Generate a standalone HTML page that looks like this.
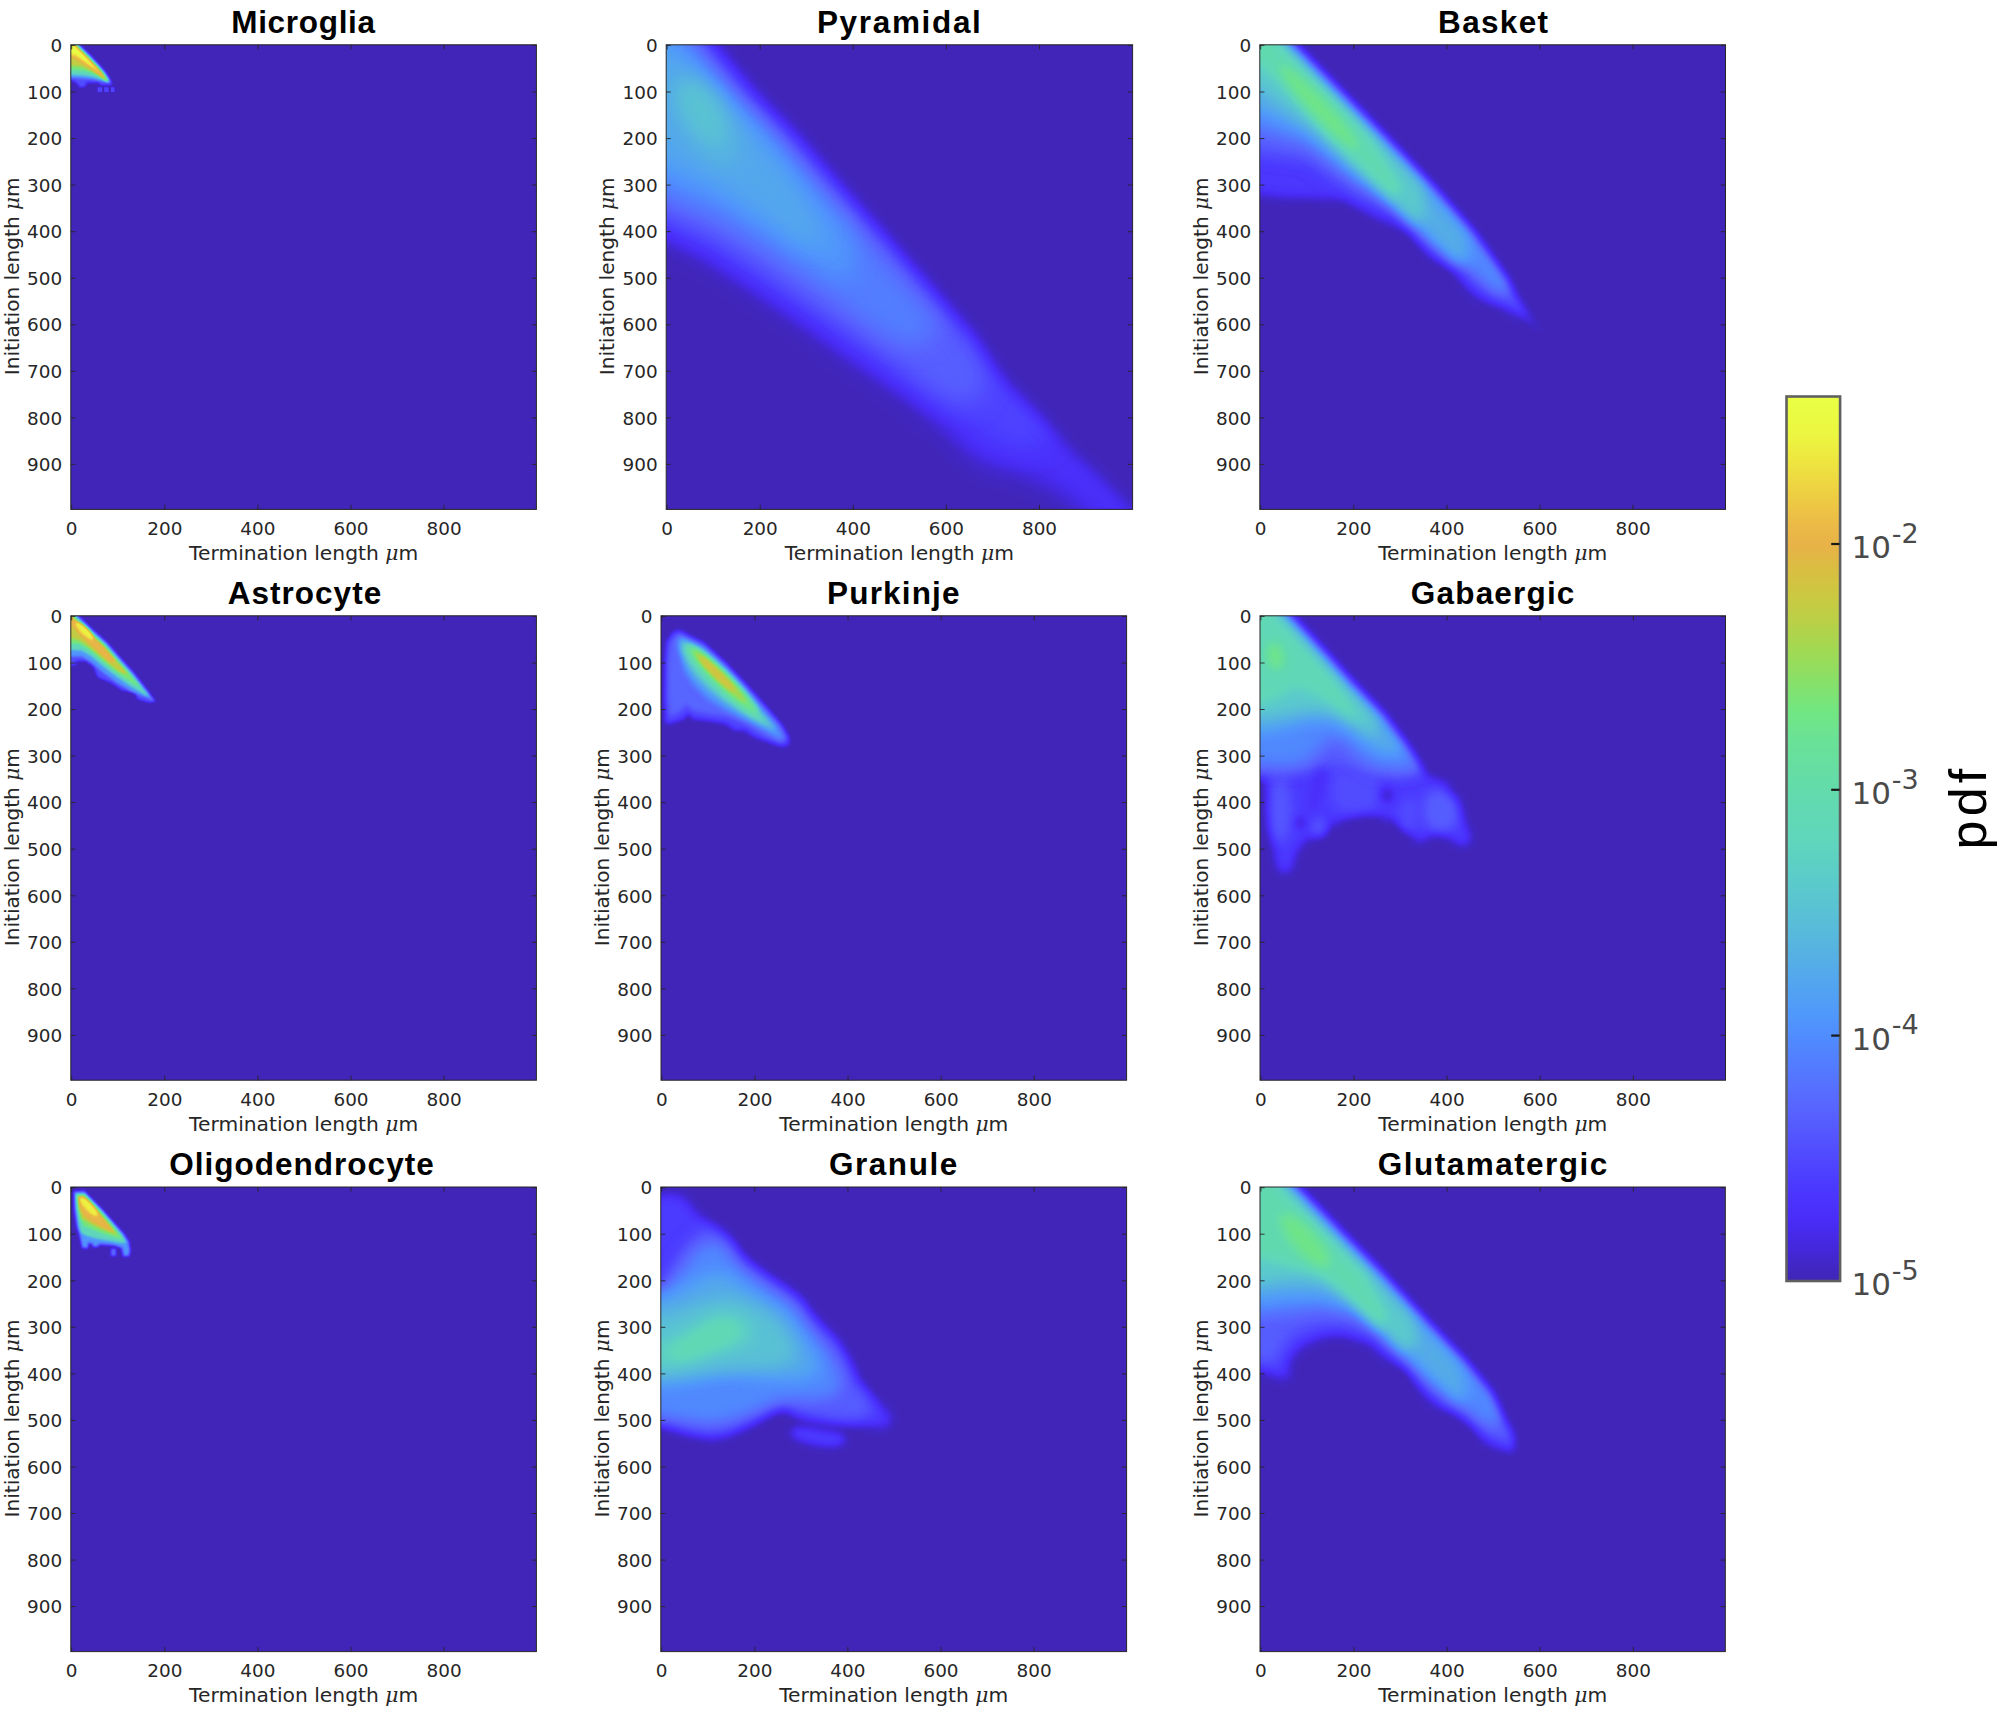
<!DOCTYPE html>
<html lang="en"><head><meta charset="utf-8"><title>Initiation vs termination length pdf</title>
<style>
html,body{margin:0;padding:0;background:#fff;}
body{width:2000px;height:1717px;overflow:hidden;}
svg{display:block;}
.tk{font-family:"DejaVu Sans","Liberation Sans",sans-serif;font-size:18.4px;fill:#262626;}
.al{font-family:"DejaVu Sans","Liberation Sans",sans-serif;font-size:20.25px;fill:#262626;}
.yl{font-family:"DejaVu Sans","Liberation Sans",sans-serif;font-size:20.1px;fill:#262626;}
.mu{font-family:"DejaVu Serif","Liberation Serif",serif;font-style:italic;}
.tt{font-family:"Liberation Sans",sans-serif;font-weight:bold;font-size:31.5px;fill:#000;}
.cb{font-family:"DejaVu Sans","Liberation Sans",sans-serif;font-size:31px;fill:#4a4a4a;}
.pdf{font-family:"Liberation Sans",sans-serif;font-size:52px;fill:#000;letter-spacing:4.2px;}
</style></head><body>
<svg width="2000" height="1717" viewBox="0 0 2000 1717">
<defs>
<filter id="cm" x="0" y="0" width="1" height="1" color-interpolation-filters="sRGB">
<feComponentTransfer>
<feFuncR type="table" tableValues="0.251 0.256 0.263 0.272 0.283 0.291 0.293 0.297 0.306 0.315 0.325 0.334 0.340 0.345 0.338 0.330 0.323 0.315 0.314 0.314 0.316 0.320 0.326 0.334 0.339 0.343 0.347 0.350 0.354 0.358 0.362 0.370 0.377 0.379 0.382 0.384 0.392 0.399 0.407 0.414 0.427 0.442 0.474 0.515 0.558 0.604 0.650 0.694 0.736 0.773 0.808 0.839 0.870 0.902 0.917 0.926 0.929 0.933 0.933 0.933 0.930 0.926 0.921 0.916 0.910"/>
<feFuncG type="table" tableValues="0.149 0.151 0.155 0.162 0.171 0.184 0.205 0.228 0.258 0.287 0.318 0.349 0.378 0.408 0.438 0.467 0.498 0.529 0.559 0.588 0.612 0.635 0.657 0.679 0.702 0.724 0.745 0.763 0.781 0.796 0.811 0.826 0.840 0.845 0.850 0.855 0.862 0.870 0.877 0.885 0.892 0.899 0.895 0.884 0.872 0.861 0.846 0.827 0.810 0.795 0.778 0.755 0.731 0.705 0.715 0.738 0.775 0.812 0.851 0.889 0.923 0.956 0.974 0.987 1.000"/>
<feFuncB type="table" tableValues="0.722 0.769 0.834 0.894 0.948 0.984 0.993 1.000 1.000 1.000 1.000 1.000 1.000 1.000 1.000 1.000 1.000 1.000 0.995 0.990 0.972 0.950 0.927 0.905 0.885 0.866 0.847 0.829 0.810 0.792 0.773 0.754 0.735 0.718 0.700 0.682 0.660 0.638 0.616 0.593 0.557 0.516 0.473 0.428 0.387 0.349 0.318 0.296 0.277 0.262 0.252 0.256 0.262 0.278 0.279 0.274 0.267 0.259 0.255 0.252 0.251 0.251 0.255 0.261 0.267"/>
</feComponentTransfer></filter>
<linearGradient id="cbg" x1="0" y1="1" x2="0" y2="0"><stop offset="0.000" stop-color="#4026B8"/><stop offset="0.006" stop-color="#4026BA"/><stop offset="0.039" stop-color="#4428DD"/><stop offset="0.072" stop-color="#4A2DFA"/><stop offset="0.105" stop-color="#4B38FF"/><stop offset="0.138" stop-color="#5048FF"/><stop offset="0.170" stop-color="#5558FF"/><stop offset="0.203" stop-color="#5868FF"/><stop offset="0.236" stop-color="#5478FF"/><stop offset="0.268" stop-color="#5088FF"/><stop offset="0.301" stop-color="#5098FC"/><stop offset="0.334" stop-color="#52A4F0"/><stop offset="0.367" stop-color="#56B0E4"/><stop offset="0.400" stop-color="#58BCDA"/><stop offset="0.433" stop-color="#5AC6D0"/><stop offset="0.466" stop-color="#5CCEC6"/><stop offset="0.498" stop-color="#60D6BC"/><stop offset="0.547" stop-color="#62DAAE"/><stop offset="0.613" stop-color="#6AE296"/><stop offset="0.646" stop-color="#72E680"/><stop offset="0.679" stop-color="#88E068"/><stop offset="0.711" stop-color="#A0DA54"/><stop offset="0.744" stop-color="#B8D048"/><stop offset="0.777" stop-color="#CCC840"/><stop offset="0.809" stop-color="#DCBC42"/><stop offset="0.832" stop-color="#E8B248"/><stop offset="0.859" stop-color="#ECBC46"/><stop offset="0.892" stop-color="#EED042"/><stop offset="0.924" stop-color="#EEE440"/><stop offset="0.957" stop-color="#ECF640"/><stop offset="1.000" stop-color="#E8FF44"/></linearGradient>
<filter id="b1_20" x="-1" y="-1" width="3" height="3" color-interpolation-filters="sRGB"><feGaussianBlur stdDeviation="1.20"/></filter>
<filter id="b0_70" x="-1" y="-1" width="3" height="3" color-interpolation-filters="sRGB"><feGaussianBlur stdDeviation="0.70"/></filter>
<filter id="b1_00" x="-1" y="-1" width="3" height="3" color-interpolation-filters="sRGB"><feGaussianBlur stdDeviation="1.00"/></filter>
<filter id="b13_00" x="-1" y="-1" width="3" height="3" color-interpolation-filters="sRGB"><feGaussianBlur stdDeviation="13.00"/></filter>
<filter id="b12_00" x="-1" y="-1" width="3" height="3" color-interpolation-filters="sRGB"><feGaussianBlur stdDeviation="12.00"/></filter>
<filter id="b11_00" x="-1" y="-1" width="3" height="3" color-interpolation-filters="sRGB"><feGaussianBlur stdDeviation="11.00"/></filter>
<filter id="b10_00" x="-1" y="-1" width="3" height="3" color-interpolation-filters="sRGB"><feGaussianBlur stdDeviation="10.00"/></filter>
<filter id="b8_00" x="-1" y="-1" width="3" height="3" color-interpolation-filters="sRGB"><feGaussianBlur stdDeviation="8.00"/></filter>
<filter id="b7_50" x="-1" y="-1" width="3" height="3" color-interpolation-filters="sRGB"><feGaussianBlur stdDeviation="7.50"/></filter>
<filter id="b5_50" x="-1" y="-1" width="3" height="3" color-interpolation-filters="sRGB"><feGaussianBlur stdDeviation="5.50"/></filter>
<filter id="b7_00" x="-1" y="-1" width="3" height="3" color-interpolation-filters="sRGB"><feGaussianBlur stdDeviation="7.00"/></filter>
<filter id="b6_50" x="-1" y="-1" width="3" height="3" color-interpolation-filters="sRGB"><feGaussianBlur stdDeviation="6.50"/></filter>
<filter id="b4_50" x="-1" y="-1" width="3" height="3" color-interpolation-filters="sRGB"><feGaussianBlur stdDeviation="4.50"/></filter>
<filter id="b4_00" x="-1" y="-1" width="3" height="3" color-interpolation-filters="sRGB"><feGaussianBlur stdDeviation="4.00"/></filter>
<filter id="b1_30" x="-1" y="-1" width="3" height="3" color-interpolation-filters="sRGB"><feGaussianBlur stdDeviation="1.30"/></filter>
<filter id="b2_20" x="-1" y="-1" width="3" height="3" color-interpolation-filters="sRGB"><feGaussianBlur stdDeviation="2.20"/></filter>
<filter id="b2_80" x="-1" y="-1" width="3" height="3" color-interpolation-filters="sRGB"><feGaussianBlur stdDeviation="2.80"/></filter>
<filter id="b2_50" x="-1" y="-1" width="3" height="3" color-interpolation-filters="sRGB"><feGaussianBlur stdDeviation="2.50"/></filter>
<filter id="b2_00" x="-1" y="-1" width="3" height="3" color-interpolation-filters="sRGB"><feGaussianBlur stdDeviation="2.00"/></filter>
<filter id="b5_00" x="-1" y="-1" width="3" height="3" color-interpolation-filters="sRGB"><feGaussianBlur stdDeviation="5.00"/></filter>
<filter id="b6_00" x="-1" y="-1" width="3" height="3" color-interpolation-filters="sRGB"><feGaussianBlur stdDeviation="6.00"/></filter>
<filter id="b3_50" x="-1" y="-1" width="3" height="3" color-interpolation-filters="sRGB"><feGaussianBlur stdDeviation="3.50"/></filter>
<filter id="b3_00" x="-1" y="-1" width="3" height="3" color-interpolation-filters="sRGB"><feGaussianBlur stdDeviation="3.00"/></filter>
<filter id="b8_50" x="-1" y="-1" width="3" height="3" color-interpolation-filters="sRGB"><feGaussianBlur stdDeviation="8.50"/></filter>
<filter id="b0_90" x="-1" y="-1" width="3" height="3" color-interpolation-filters="sRGB"><feGaussianBlur stdDeviation="0.90"/></filter>
</defs>
<rect x="0" y="0" width="2000" height="1717" fill="#ffffff"/>
<!-- Microglia -->
<clipPath id="cp0"><rect x="70.8" y="44.8" width="465.6" height="464.6"/></clipPath>
<g clip-path="url(#cp0)"><g filter="url(#cm)">
<rect x="30.8" y="4.8" width="545.6" height="544.6" fill="#000"/>
<g transform="translate(71.70,45.45)">
<polygon points="-6.0,-8.0 1.5,-8.0 9.0,0.0 18.7,9.6 27.0,18.4 33.3,25.6 37.5,31.9 39.8,36.5 40.0,39.5 29.1,39.5 27.0,37.0 14.5,37.0 14.5,39.5 12.0,41.5 7.8,41.5 6.0,38.5 1.0,35.0 -6.0,34.5" fill="rgb(38,38,38)" filter="url(#b1_20)"/>
<rect x="25.8" y="41.8" width="4.6" height="4.8" fill="rgb(32,32,32)" filter="url(#b0_70)"/>
<rect x="32.5" y="41.8" width="4.4" height="4.8" fill="rgb(32,32,32)" filter="url(#b0_70)"/>
<rect x="39.2" y="41.8" width="3.6" height="4.8" fill="rgb(32,32,32)" filter="url(#b0_70)"/>
<polygon points="-6.0,-8.0 0.6,-7.2 8.1,0.8 17.8,10.4 26.1,19.2 32.4,26.3 36.5,32.5 38.7,37.0 37.0,36.8 30.0,35.8 20.0,33.8 10.0,33.0 -6.0,32.0" fill="rgb(76,76,76)" filter="url(#b1_20)"/>
<polygon points="-6.0,-8.0 -0.1,-6.5 7.4,1.5 17.1,11.1 25.4,19.9 31.6,27.0 35.6,33.0 37.4,36.7 33.0,35.0 22.0,31.5 12.0,30.0 -6.0,29.0" fill="rgb(128,128,128)" filter="url(#b1_20)"/>
<polygon points="-6.0,-8.0 -0.7,-5.9 6.9,2.1 16.6,11.7 24.8,20.4 30.9,27.4 34.9,33.4 36.5,36.5 33.0,33.5 22.0,28.5 12.0,25.5 -6.0,24.5" fill="rgb(168,168,168)" filter="url(#b1_20)"/>
<polygon points="-6.0,-8.0 -1.2,-5.5 6.4,2.6 16.1,12.2 24.3,20.9 30.4,27.9 34.3,33.8 35.6,36.3 31.0,32.0 20.0,25.5 10.0,21.0 -6.0,19.5" fill="rgb(194,194,194)" filter="url(#b1_20)"/>
<polygon points="-6.0,-8.0 -1.6,-5.1 5.9,3.0 15.6,12.6 23.8,21.3 29.9,28.2 33.8,34.1 34.7,35.8 28.0,29.5 18.0,22.5 9.0,17.0 1.5,12.5 -6.0,11.0" fill="rgb(214,214,214)" filter="url(#b1_20)"/>
<polygon points="-6.0,-8.0 -2.1,-4.6 5.5,3.4 15.2,13.0 23.4,21.7 29.4,28.6 31.1,31.2 22.0,22.5 16.0,19.0 9.0,14.0 4.0,10.5 -6.0,9.5" fill="rgb(237,237,237)" filter="url(#b1_20)"/>
<polygon points="-3.0,-3.0 5.0,3.9 14.7,13.5 22.9,22.2 27.2,27.1 16.0,16.5 10.0,12.0 5.0,8.0 -3.0,6.0" fill="rgb(255,255,255)" filter="url(#b1_00)"/>
</g></g></g>
<rect x="70.8" y="44.8" width="465.6" height="464.6" fill="none" stroke="#262626" stroke-width="1.0"/>
<path d="M70.8 45.4h4.6M536.4 45.4h-4.6M70.8 92.0h4.6M536.4 92.0h-4.6M70.8 138.6h4.6M536.4 138.6h-4.6M70.8 185.1h4.6M536.4 185.1h-4.6M70.8 231.7h4.6M536.4 231.7h-4.6M70.8 278.2h4.6M536.4 278.2h-4.6M70.8 324.8h4.6M536.4 324.8h-4.6M70.8 371.3h4.6M536.4 371.3h-4.6M70.8 417.9h4.6M536.4 417.9h-4.6M70.8 464.4h4.6M536.4 464.4h-4.6M71.7 509.4v-4.6M71.7 44.8v4.6M164.8 509.4v-4.6M164.8 44.8v4.6M257.9 509.4v-4.6M257.9 44.8v4.6M351.0 509.4v-4.6M351.0 44.8v4.6M444.1 509.4v-4.6M444.1 44.8v4.6" stroke="#262626" stroke-width="0.9" fill="none"/>
<text class="tk" x="62.2" y="52.1" text-anchor="end">0</text>
<text class="tk" x="62.2" y="98.7" text-anchor="end">100</text>
<text class="tk" x="62.2" y="145.2" text-anchor="end">200</text>
<text class="tk" x="62.2" y="191.8" text-anchor="end">300</text>
<text class="tk" x="62.2" y="238.3" text-anchor="end">400</text>
<text class="tk" x="62.2" y="284.9" text-anchor="end">500</text>
<text class="tk" x="62.2" y="331.4" text-anchor="end">600</text>
<text class="tk" x="62.2" y="378.0" text-anchor="end">700</text>
<text class="tk" x="62.2" y="424.6" text-anchor="end">800</text>
<text class="tk" x="62.2" y="471.1" text-anchor="end">900</text>
<text class="tk" x="71.7" y="535.2" text-anchor="middle">0</text>
<text class="tk" x="164.8" y="535.2" text-anchor="middle">200</text>
<text class="tk" x="257.9" y="535.2" text-anchor="middle">400</text>
<text class="tk" x="351.0" y="535.2" text-anchor="middle">600</text>
<text class="tk" x="444.1" y="535.2" text-anchor="middle">800</text>
<text class="al" x="303.6" y="559.8" text-anchor="middle">Termination length <tspan class="mu">μ</tspan>m</text>
<text class="yl" transform="translate(18.8,276.3) rotate(-90)" text-anchor="middle">Initiation length <tspan class="mu">μ</tspan>m</text>
<text class="tt" x="303.5" y="32.6" text-anchor="middle" style="letter-spacing:0.69px">Microglia</text>
<!-- Pyramidal -->
<clipPath id="cp1"><rect x="666.2" y="44.8" width="466.4" height="464.6"/></clipPath>
<g clip-path="url(#cp1)"><g filter="url(#cm)">
<rect x="626.2" y="4.8" width="546.4" height="544.6" fill="#000"/>
<g transform="translate(667.10,45.45)">
<polygon points="-69.8,-116.4 628.4,535.3 512.1,526.0 442.2,484.1 409.6,458.5 393.3,444.6 377.1,436.6 349.1,425.9 325.9,421.3 302.6,409.6 279.3,384.0 232.8,346.8 186.2,315.6 139.7,281.6 93.1,249.0 46.6,217.9 0.0,193.2 -69.8,158.3" fill="rgb(22,22,22)" filter="url(#b13_00)"/>
<polygon points="-69.8,-116.4 85.7,0.0 124.3,46.6 169.9,93.1 210.4,139.7 252.3,186.2 293.3,232.8 334.2,279.3 346.8,293.7 366.8,325.9 382.2,344.0 410.6,372.4 372.4,400.3 353.8,405.0 325.9,393.3 279.3,363.1 232.8,328.2 186.2,297.9 139.7,265.3 93.1,232.8 46.6,202.5 0.0,179.2 -69.8,144.3" fill="rgb(33,33,33)" filter="url(#b13_00)"/>
<polygon points="-69.8,-116.4 39.1,0.0 77.7,46.6 123.4,93.1 163.9,139.7 205.8,186.2 246.7,232.8 287.7,279.3 300.2,293.7 320.3,325.9 311.9,353.8 297.9,360.8 270.0,349.1 232.8,321.2 186.2,286.3 139.7,253.7 93.1,221.1 46.6,190.9 0.0,169.9 -69.8,135.0" fill="rgb(48,48,48)" filter="url(#b13_00)"/>
<polygon points="-69.8,-116.4 24.2,0.0 62.8,46.6 108.5,93.1 149.0,139.7 190.9,186.2 231.8,232.8 272.8,279.3 260.7,293.3 242.1,300.2 218.8,290.9 186.2,267.7 139.7,235.1 93.1,202.5 46.6,174.6 0.0,155.9 -69.8,121.0" fill="rgb(64,64,64)" filter="url(#b12_00)"/>
<polygon points="-69.8,-116.4 13.5,0.0 52.1,46.6 97.8,93.1 138.3,139.7 180.1,186.2 186.2,218.8 176.9,232.8 167.6,228.1 139.7,211.8 93.1,181.5 46.6,153.6 0.0,135.0 -69.8,102.4" fill="rgb(79,79,79)" filter="url(#b12_00)"/>
<polygon points="-69.8,-46.6 0.0,9.3 14.0,10.2 46.6,46.6 90.8,93.1 128.0,139.7 149.0,176.9 153.6,195.5 144.3,202.5 125.7,190.9 93.1,165.3 46.6,135.0 0.0,114.0 -69.8,95.4" fill="rgb(88,88,88)" filter="url(#b11_00)"/>
<ellipse cx="0" cy="0" rx="51.2" ry="23.3" transform="translate(37.2,74.5) rotate(58.0)" fill="rgb(98,98,98)" filter="url(#b10_00)"/>
<ellipse cx="0" cy="0" rx="32.6" ry="14.9" transform="translate(34.9,67.5) rotate(58.0)" fill="rgb(108,108,108)" filter="url(#b8_00)"/>
<polygon points="48.4,0.0 87.0,46.6 132.7,93.1 173.2,139.7 215.1,186.2 256.0,232.8 297.0,279.3 309.6,293.7 329.6,325.9 344.9,344.0 373.3,372.4 404.1,405.5 419.0,419.0 428.7,427.8 449.7,448.7 465.5,465.5 512.1,512.1 651.7,512.1 651.7,-93.1 -28.9,-93.1" fill="rgb(0,0,0)" filter="url(#b7_50)"/>
</g></g></g>
<rect x="666.2" y="44.8" width="466.4" height="464.6" fill="none" stroke="#262626" stroke-width="1.0"/>
<path d="M666.2 45.4h4.6M1132.6 45.4h-4.6M666.2 92.0h4.6M1132.6 92.0h-4.6M666.2 138.6h4.6M1132.6 138.6h-4.6M666.2 185.1h4.6M1132.6 185.1h-4.6M666.2 231.7h4.6M1132.6 231.7h-4.6M666.2 278.2h4.6M1132.6 278.2h-4.6M666.2 324.8h4.6M1132.6 324.8h-4.6M666.2 371.3h4.6M1132.6 371.3h-4.6M666.2 417.9h4.6M1132.6 417.9h-4.6M666.2 464.4h4.6M1132.6 464.4h-4.6M667.1 509.4v-4.6M667.1 44.8v4.6M760.2 509.4v-4.6M760.2 44.8v4.6M853.3 509.4v-4.6M853.3 44.8v4.6M946.4 509.4v-4.6M946.4 44.8v4.6M1039.5 509.4v-4.6M1039.5 44.8v4.6" stroke="#262626" stroke-width="0.9" fill="none"/>
<text class="tk" x="657.6" y="52.1" text-anchor="end">0</text>
<text class="tk" x="657.6" y="98.7" text-anchor="end">100</text>
<text class="tk" x="657.6" y="145.2" text-anchor="end">200</text>
<text class="tk" x="657.6" y="191.8" text-anchor="end">300</text>
<text class="tk" x="657.6" y="238.3" text-anchor="end">400</text>
<text class="tk" x="657.6" y="284.9" text-anchor="end">500</text>
<text class="tk" x="657.6" y="331.4" text-anchor="end">600</text>
<text class="tk" x="657.6" y="378.0" text-anchor="end">700</text>
<text class="tk" x="657.6" y="424.6" text-anchor="end">800</text>
<text class="tk" x="657.6" y="471.1" text-anchor="end">900</text>
<text class="tk" x="667.1" y="535.2" text-anchor="middle">0</text>
<text class="tk" x="760.2" y="535.2" text-anchor="middle">200</text>
<text class="tk" x="853.3" y="535.2" text-anchor="middle">400</text>
<text class="tk" x="946.4" y="535.2" text-anchor="middle">600</text>
<text class="tk" x="1039.5" y="535.2" text-anchor="middle">800</text>
<text class="al" x="899.4" y="559.8" text-anchor="middle">Termination length <tspan class="mu">μ</tspan>m</text>
<text class="yl" transform="translate(614.2,276.3) rotate(-90)" text-anchor="middle">Initiation length <tspan class="mu">μ</tspan>m</text>
<text class="tt" x="899.7" y="32.6" text-anchor="middle" style="letter-spacing:1.67px">Pyramidal</text>
<!-- Basket -->
<clipPath id="cp2"><rect x="1259.8" y="44.8" width="465.7" height="464.6"/></clipPath>
<g clip-path="url(#cp2)"><g filter="url(#cm)">
<rect x="1219.8" y="4.8" width="545.7" height="544.6" fill="#000"/>
<g transform="translate(1260.70,45.45)">
<polygon points="-46.6,-63.3 61.4,0.0 107.1,46.6 152.7,93.1 197.4,139.7 238.3,186.2 271.4,232.8 284.0,256.0 301.6,281.6 274.6,279.3 256.0,263.9 225.8,256.0 209.5,246.7 193.2,223.4 167.6,209.5 151.3,186.2 116.4,171.3 83.8,153.6 46.6,151.3 23.3,151.3 0.0,148.0 -46.6,146.6" fill="rgb(26,26,26)" filter="url(#b5_50)"/>
<polygon points="-46.6,-63.3 61.4,0.0 107.1,46.6 152.7,93.1 197.4,139.7 238.3,186.2 271.4,232.8 284.0,256.0 260.7,267.7 251.4,260.7 232.8,246.7 204.8,223.4 172.2,200.2 139.7,171.3 93.1,148.0 46.6,116.4 0.0,109.4 -46.6,104.7" fill="rgb(46,46,46)" filter="url(#b7_50)"/>
<polygon points="-46.6,-63.3 61.4,0.0 107.1,46.6 152.7,93.1 197.4,139.7 238.3,186.2 271.4,232.8 237.4,249.0 228.1,242.1 209.5,225.8 176.9,197.8 139.7,162.9 93.1,135.0 46.6,100.1 0.0,86.1 -46.6,81.5" fill="rgb(69,69,69)" filter="url(#b7_50)"/>
<polygon points="-46.6,-96.8 27.9,0.0 73.5,46.6 119.2,93.1 163.9,139.7 204.8,186.2 209.5,214.1 195.5,216.5 167.6,190.9 135.0,158.3 93.1,126.6 46.6,87.5 0.0,65.2 -46.6,58.2" fill="rgb(92,92,92)" filter="url(#b7_00)"/>
<polygon points="-46.6,-101.5 23.3,0.0 68.9,46.6 114.5,93.1 159.2,139.7 165.3,172.2 153.6,174.6 125.7,149.0 93.1,118.7 46.6,76.8 0.0,41.9 -46.6,32.6" fill="rgb(115,115,115)" filter="url(#b6_50)"/>
<polygon points="-46.6,-107.1 17.7,0.0 63.3,46.6 108.9,93.1 139.7,142.0 135.0,151.3 116.4,135.0 83.8,104.7 46.6,65.2 23.3,39.6 0.0,18.6 -46.6,4.7" fill="rgb(138,138,138)" filter="url(#b5_50)"/>
<ellipse cx="0" cy="0" rx="55.9" ry="9.8" transform="translate(58.2,61.9) rotate(47.0)" fill="rgb(161,161,161)" filter="url(#b4_50)"/>
<polygon points="35.4,0.0 81.0,46.6 126.6,93.1 171.3,139.7 212.3,186.2 245.3,232.8 257.9,256.0 275.6,281.6 327.7,335.2 558.6,335.2 558.6,-93.1 -55.9,-93.1" fill="rgb(0,0,0)" filter="url(#b4_00)"/>
</g></g></g>
<rect x="1259.8" y="44.8" width="465.7" height="464.6" fill="none" stroke="#262626" stroke-width="1.0"/>
<path d="M1259.8 45.4h4.6M1725.5 45.4h-4.6M1259.8 92.0h4.6M1725.5 92.0h-4.6M1259.8 138.6h4.6M1725.5 138.6h-4.6M1259.8 185.1h4.6M1725.5 185.1h-4.6M1259.8 231.7h4.6M1725.5 231.7h-4.6M1259.8 278.2h4.6M1725.5 278.2h-4.6M1259.8 324.8h4.6M1725.5 324.8h-4.6M1259.8 371.3h4.6M1725.5 371.3h-4.6M1259.8 417.9h4.6M1725.5 417.9h-4.6M1259.8 464.4h4.6M1725.5 464.4h-4.6M1260.7 509.4v-4.6M1260.7 44.8v4.6M1353.8 509.4v-4.6M1353.8 44.8v4.6M1446.9 509.4v-4.6M1446.9 44.8v4.6M1540.0 509.4v-4.6M1540.0 44.8v4.6M1633.1 509.4v-4.6M1633.1 44.8v4.6" stroke="#262626" stroke-width="0.9" fill="none"/>
<text class="tk" x="1251.2" y="52.1" text-anchor="end">0</text>
<text class="tk" x="1251.2" y="98.7" text-anchor="end">100</text>
<text class="tk" x="1251.2" y="145.2" text-anchor="end">200</text>
<text class="tk" x="1251.2" y="191.8" text-anchor="end">300</text>
<text class="tk" x="1251.2" y="238.3" text-anchor="end">400</text>
<text class="tk" x="1251.2" y="284.9" text-anchor="end">500</text>
<text class="tk" x="1251.2" y="331.4" text-anchor="end">600</text>
<text class="tk" x="1251.2" y="378.0" text-anchor="end">700</text>
<text class="tk" x="1251.2" y="424.6" text-anchor="end">800</text>
<text class="tk" x="1251.2" y="471.1" text-anchor="end">900</text>
<text class="tk" x="1260.7" y="535.2" text-anchor="middle">0</text>
<text class="tk" x="1353.8" y="535.2" text-anchor="middle">200</text>
<text class="tk" x="1446.9" y="535.2" text-anchor="middle">400</text>
<text class="tk" x="1540.0" y="535.2" text-anchor="middle">600</text>
<text class="tk" x="1633.1" y="535.2" text-anchor="middle">800</text>
<text class="al" x="1492.7" y="559.8" text-anchor="middle">Termination length <tspan class="mu">μ</tspan>m</text>
<text class="yl" transform="translate(1207.8,276.3) rotate(-90)" text-anchor="middle">Initiation length <tspan class="mu">μ</tspan>m</text>
<text class="tt" x="1493.7" y="32.6" text-anchor="middle" style="letter-spacing:1.32px">Basket</text>
<!-- Astrocyte -->
<clipPath id="cp3"><rect x="70.8" y="615.8" width="465.6" height="464.4"/></clipPath>
<g clip-path="url(#cp3)"><g filter="url(#cm)">
<rect x="30.8" y="575.8" width="545.6" height="544.4" fill="#000"/>
<g transform="translate(71.70,616.45)">
<polygon points="-6.0,-8.0 0.5,-8.0 8.0,0.0 22.1,13.5 35.6,25.7 47.8,39.8 62.5,56.3 76.0,73.5 84.0,85.0 77.0,86.0 66.0,82.5 63.0,76.5 50.0,73.5 40.0,66.5 26.0,60.5 22.0,50.5 14.0,44.5 4.0,44.5 4.0,48.5 -6.0,48.5" fill="rgb(38,38,38)" filter="url(#b1_30)"/>
<polygon points="-6.0,-8.0 -0.7,-6.9 6.9,1.1 21.0,14.7 34.5,26.8 46.6,40.9 61.3,57.3 74.7,74.5 82.1,85.1 78.0,82.0 72.0,80.0 60.0,75.0 45.0,66.0 30.0,55.0 20.0,46.0 10.0,40.0 -6.0,40.0" fill="rgb(76,76,76)" filter="url(#b1_30)"/>
<polygon points="-6.0,-8.0 -1.7,-5.9 5.9,2.1 20.1,15.7 33.5,27.8 45.5,41.8 60.2,58.2 73.6,75.3 77.1,80.3 68.0,75.0 58.0,69.0 45.0,60.0 32.0,50.0 20.0,40.0 10.0,34.0 -6.0,33.0" fill="rgb(128,128,128)" filter="url(#b1_30)"/>
<polygon points="-6.0,-8.0 -2.6,-5.1 5.0,3.0 19.2,16.6 32.6,28.6 44.6,42.6 59.3,59.0 69.2,71.6 58.0,65.0 52.0,61.0 42.0,54.0 30.0,44.0 18.0,34.0 8.0,28.0 -6.0,27.0" fill="rgb(168,168,168)" filter="url(#b1_30)"/>
<polygon points="-6.0,-8.0 -3.3,-4.4 4.3,3.7 18.6,17.3 31.9,29.3 43.9,43.2 57.1,58.0 49.0,56.0 46.0,54.0 40.0,49.5 30.0,41.0 18.0,31.0 8.0,24.0 -6.0,20.0" fill="rgb(194,194,194)" filter="url(#b1_30)"/>
<polygon points="-6.0,-8.0 -4.0,-3.8 3.6,4.4 17.9,18.0 31.2,30.0 43.1,43.9 44.0,44.9 40.0,46.0 35.0,42.5 28.0,36.5 18.0,27.5 8.0,18.5 2.0,11.0 -6.0,8.0" fill="rgb(214,214,214)" filter="url(#b1_30)"/>
<ellipse cx="0" cy="0" rx="12.0" ry="3.6" transform="translate(13.0,14.5) rotate(44.0)" fill="rgb(242,242,242)" filter="url(#b1_30)"/>
</g></g></g>
<rect x="70.8" y="615.8" width="465.6" height="464.4" fill="none" stroke="#262626" stroke-width="1.0"/>
<path d="M70.8 616.4h4.6M536.4 616.4h-4.6M70.8 663.0h4.6M536.4 663.0h-4.6M70.8 709.5h4.6M536.4 709.5h-4.6M70.8 756.1h4.6M536.4 756.1h-4.6M70.8 802.6h4.6M536.4 802.6h-4.6M70.8 849.2h4.6M536.4 849.2h-4.6M70.8 895.8h4.6M536.4 895.8h-4.6M70.8 942.3h4.6M536.4 942.3h-4.6M70.8 988.8h4.6M536.4 988.8h-4.6M70.8 1035.4h4.6M536.4 1035.4h-4.6M71.7 1080.2v-4.6M71.7 615.8v4.6M164.8 1080.2v-4.6M164.8 615.8v4.6M257.9 1080.2v-4.6M257.9 615.8v4.6M351.0 1080.2v-4.6M351.0 615.8v4.6M444.1 1080.2v-4.6M444.1 615.8v4.6" stroke="#262626" stroke-width="0.9" fill="none"/>
<text class="tk" x="62.2" y="623.1" text-anchor="end">0</text>
<text class="tk" x="62.2" y="669.7" text-anchor="end">100</text>
<text class="tk" x="62.2" y="716.2" text-anchor="end">200</text>
<text class="tk" x="62.2" y="762.8" text-anchor="end">300</text>
<text class="tk" x="62.2" y="809.4" text-anchor="end">400</text>
<text class="tk" x="62.2" y="855.9" text-anchor="end">500</text>
<text class="tk" x="62.2" y="902.5" text-anchor="end">600</text>
<text class="tk" x="62.2" y="949.0" text-anchor="end">700</text>
<text class="tk" x="62.2" y="995.5" text-anchor="end">800</text>
<text class="tk" x="62.2" y="1042.1" text-anchor="end">900</text>
<text class="tk" x="71.7" y="1106.0" text-anchor="middle">0</text>
<text class="tk" x="164.8" y="1106.0" text-anchor="middle">200</text>
<text class="tk" x="257.9" y="1106.0" text-anchor="middle">400</text>
<text class="tk" x="351.0" y="1106.0" text-anchor="middle">600</text>
<text class="tk" x="444.1" y="1106.0" text-anchor="middle">800</text>
<text class="al" x="303.6" y="1130.6" text-anchor="middle">Termination length <tspan class="mu">μ</tspan>m</text>
<text class="yl" transform="translate(18.8,847.2) rotate(-90)" text-anchor="middle">Initiation length <tspan class="mu">μ</tspan>m</text>
<text class="tt" x="305.0" y="603.6" text-anchor="middle" style="letter-spacing:1.00px">Astrocyte</text>
<!-- Purkinje -->
<clipPath id="cp4"><rect x="661.0" y="615.8" width="465.6" height="464.4"/></clipPath>
<g clip-path="url(#cp4)"><g filter="url(#cm)">
<rect x="621.0" y="575.8" width="545.6" height="544.4" fill="#000"/>
<g transform="translate(661.90,616.45)">
<polygon points="17.2,13.5 41.5,26.5 63.8,47.1 82.5,66.7 101.0,87.2 119.5,108.5 127.0,121.5 127.0,128.0 121.0,130.4 110.4,126.7 91.8,120.0 82.5,113.6 73.0,113.6 63.8,107.0 45.2,103.8 31.2,102.4 26.6,96.9 21.9,102.4 7.9,107.0 3.3,106.0 2.4,82.0 3.3,44.7 4.3,26.5 10.3,16.5" fill="rgb(33,33,33)" filter="url(#b2_20)"/>
<polygon points="16.0,17.0 41.0,28.0 63.0,48.0 82.0,68.0 100.0,88.0 118.0,109.0 125.0,122.0 119.0,126.0 100.0,118.0 85.0,108.0 65.0,100.0 45.0,97.0 30.0,94.0 25.0,88.0 18.0,95.0 8.0,100.0 6.0,80.0 6.0,45.0 9.0,25.0" fill="rgb(51,51,51)" filter="url(#b2_80)"/>
<polygon points="18.0,20.0 41.0,31.0 62.5,51.0 81.0,71.0 99.0,91.0 116.0,111.0 121.0,121.0 121.0,123.0 115.0,121.0 101.0,113.0 82.5,103.5 64.0,94.0 45.0,82.0 31.0,68.0 22.0,54.0 17.0,35.0 15.0,25.0" fill="rgb(76,76,76)" filter="url(#b2_80)"/>
<polygon points="20.0,23.0 41.0,34.5 61.5,54.0 80.0,74.0 97.5,93.5 112.0,110.0 113.0,114.0 100.0,108.0 82.0,98.0 64.0,87.0 47.0,74.0 33.0,60.0 24.0,46.0 19.0,33.0" fill="rgb(107,107,107)" filter="url(#b2_80)"/>
<polygon points="23.0,27.0 41.0,38.5 60.5,57.0 78.5,77.0 95.0,95.5 106.0,107.0 105.0,107.0 92.0,101.0 78.0,92.0 62.0,80.0 47.0,67.0 35.0,54.0 27.0,43.0 23.0,33.0" fill="rgb(138,138,138)" filter="url(#b2_50)"/>
<ellipse cx="0" cy="0" rx="48.0" ry="7.5" transform="translate(61.0,63.0) rotate(44.5)" fill="rgb(163,163,163)" filter="url(#b2_50)"/>
<ellipse cx="0" cy="0" rx="37.0" ry="5.0" transform="translate(58.0,60.0) rotate(44.5)" fill="rgb(184,184,184)" filter="url(#b2_20)"/>
<ellipse cx="0" cy="0" rx="25.0" ry="3.2" transform="translate(55.0,57.5) rotate(44.5)" fill="rgb(204,204,204)" filter="url(#b2_00)"/>
</g></g></g>
<rect x="661.0" y="615.8" width="465.6" height="464.4" fill="none" stroke="#262626" stroke-width="1.0"/>
<path d="M661.0 616.4h4.6M1126.6 616.4h-4.6M661.0 663.0h4.6M1126.6 663.0h-4.6M661.0 709.5h4.6M1126.6 709.5h-4.6M661.0 756.1h4.6M1126.6 756.1h-4.6M661.0 802.6h4.6M1126.6 802.6h-4.6M661.0 849.2h4.6M1126.6 849.2h-4.6M661.0 895.8h4.6M1126.6 895.8h-4.6M661.0 942.3h4.6M1126.6 942.3h-4.6M661.0 988.8h4.6M1126.6 988.8h-4.6M661.0 1035.4h4.6M1126.6 1035.4h-4.6M661.9 1080.2v-4.6M661.9 615.8v4.6M755.0 1080.2v-4.6M755.0 615.8v4.6M848.1 1080.2v-4.6M848.1 615.8v4.6M941.2 1080.2v-4.6M941.2 615.8v4.6M1034.3 1080.2v-4.6M1034.3 615.8v4.6" stroke="#262626" stroke-width="0.9" fill="none"/>
<text class="tk" x="652.4" y="623.1" text-anchor="end">0</text>
<text class="tk" x="652.4" y="669.7" text-anchor="end">100</text>
<text class="tk" x="652.4" y="716.2" text-anchor="end">200</text>
<text class="tk" x="652.4" y="762.8" text-anchor="end">300</text>
<text class="tk" x="652.4" y="809.4" text-anchor="end">400</text>
<text class="tk" x="652.4" y="855.9" text-anchor="end">500</text>
<text class="tk" x="652.4" y="902.5" text-anchor="end">600</text>
<text class="tk" x="652.4" y="949.0" text-anchor="end">700</text>
<text class="tk" x="652.4" y="995.5" text-anchor="end">800</text>
<text class="tk" x="652.4" y="1042.1" text-anchor="end">900</text>
<text class="tk" x="661.9" y="1106.0" text-anchor="middle">0</text>
<text class="tk" x="755.0" y="1106.0" text-anchor="middle">200</text>
<text class="tk" x="848.1" y="1106.0" text-anchor="middle">400</text>
<text class="tk" x="941.2" y="1106.0" text-anchor="middle">600</text>
<text class="tk" x="1034.3" y="1106.0" text-anchor="middle">800</text>
<text class="al" x="893.8" y="1130.6" text-anchor="middle">Termination length <tspan class="mu">μ</tspan>m</text>
<text class="yl" transform="translate(609.0,847.2) rotate(-90)" text-anchor="middle">Initiation length <tspan class="mu">μ</tspan>m</text>
<text class="tt" x="893.9" y="603.6" text-anchor="middle" style="letter-spacing:1.17px">Purkinje</text>
<!-- Gabaergic -->
<clipPath id="cp5"><rect x="1260.0" y="615.8" width="465.5" height="464.4"/></clipPath>
<g clip-path="url(#cp5)"><g filter="url(#cm)">
<rect x="1220.0" y="575.8" width="545.5" height="544.4" fill="#000"/>
<g transform="translate(1260.90,616.45)">
<polygon points="-46.6,-65.2 57.3,0.0 89.4,34.9 116.8,65.2 149.4,98.7 173.2,130.8 187.6,152.7 191.3,159.7 183.9,173.2 194.6,190.9 204.8,208.5 209.5,219.7 207.6,227.2 199.2,229.0 190.9,222.5 182.5,216.0 171.3,216.0 162.9,224.4 155.0,224.4 149.0,215.1 136.4,204.8 120.1,199.7 101.9,196.4 86.6,201.1 68.9,208.5 63.3,216.5 54.9,221.6 46.6,221.6 39.1,229.0 32.6,242.1 30.7,252.3 25.1,256.0 18.6,255.1 14.9,242.1 11.2,219.7 9.8,195.5 7.4,173.2 0.0,159.7 -46.6,159.7" fill="rgb(28,28,28)" filter="url(#b5_00)"/>
<polygon points="-46.6,-65.2 57.3,0.0 89.4,34.9 116.8,65.2 149.4,98.7 173.2,130.8 187.6,152.7 158.3,155.9 139.7,160.6 116.4,158.3 93.1,155.9 74.5,153.6 60.5,149.0 41.9,155.9 23.3,158.3 0.0,155.9 -46.6,155.9" fill="rgb(43,43,43)" filter="url(#b6_00)"/>
<ellipse cx="0" cy="0" rx="11.2" ry="33.5" transform="translate(19.6,193.2) rotate(0.0)" fill="rgb(43,43,43)" filter="url(#b5_50)"/>
<ellipse cx="0" cy="0" rx="18.6" ry="21.4" transform="translate(179.2,194.6) rotate(-15.0)" fill="rgb(46,46,46)" filter="url(#b6_00)"/>
<polygon points="74.5,153.6 116.4,158.3 118.7,186.2 107.1,194.6 88.4,196.4 74.5,191.8 69.8,176.9" fill="rgb(38,38,38)" filter="url(#b5_50)"/>
<ellipse cx="0" cy="0" rx="7.0" ry="8.4" transform="translate(57.7,210.4) rotate(0.0)" fill="rgb(41,41,41)" filter="url(#b4_50)"/>
<ellipse cx="0" cy="0" rx="10.2" ry="16.8" transform="translate(148.0,197.8) rotate(0.0)" fill="rgb(37,37,37)" filter="url(#b5_00)"/>
<ellipse cx="0" cy="0" rx="5.6" ry="22.3" transform="translate(55.9,173.2) rotate(15.0)" fill="rgb(18,18,18)" filter="url(#b4_00)"/>
<ellipse cx="0" cy="0" rx="6.5" ry="7.4" transform="translate(126.2,178.8) rotate(0.0)" fill="rgb(8,8,8)" filter="url(#b3_50)"/>
<ellipse cx="0" cy="0" rx="4.7" ry="6.1" transform="translate(39.6,206.2) rotate(0.0)" fill="rgb(10,10,10)" filter="url(#b3_00)"/>
<polygon points="-46.6,-65.2 57.3,0.0 89.4,34.9 116.8,65.2 149.4,98.7 173.2,130.8 160.6,149.9 149.0,153.6 130.3,154.5 107.1,149.9 90.8,135.0 76.8,122.0 65.2,125.7 55.9,138.7 44.2,148.0 23.3,151.8 0.0,149.9 -46.6,149.9" fill="rgb(69,69,69)" filter="url(#b8_50)"/>
<polygon points="-46.6,-96.8 25.6,0.0 57.7,34.9 85.2,65.2 117.8,98.7 141.5,130.8 142.0,135.0 125.7,137.3 107.1,128.0 88.4,114.0 69.8,104.7 46.6,104.7 23.3,111.7 0.0,116.4 -46.6,116.4" fill="rgb(92,92,92)" filter="url(#b7_00)"/>
<polygon points="-46.6,-102.4 20.0,0.0 52.1,34.9 79.6,65.2 112.2,98.7 116.4,118.7 100.1,111.7 83.8,100.1 65.2,93.1 41.9,93.1 18.6,97.8 0.0,100.1 -46.6,100.1" fill="rgb(115,115,115)" filter="url(#b6_50)"/>
<polygon points="-46.6,-108.0 14.4,0.0 46.6,34.9 74.0,65.2 100.1,103.3 88.4,100.1 69.8,86.1 51.2,74.5 32.6,69.8 18.6,79.1 0.0,86.1 -46.6,86.1" fill="rgb(133,133,133)" filter="url(#b6_00)"/>
<ellipse cx="0" cy="0" rx="9.3" ry="14.0" transform="translate(14.4,39.6) rotate(-10.0)" fill="rgb(161,161,161)" filter="url(#b5_00)"/>
<polygon points="31.2,0.0 63.3,34.9 90.8,65.2 123.4,98.7 147.1,130.8 161.5,152.7 165.3,159.7 174.6,162.9 186.2,166.6 558.6,166.6 558.6,-93.1 -60.5,-93.1" fill="rgb(0,0,0)" filter="url(#b4_00)"/>
</g></g></g>
<rect x="1260.0" y="615.8" width="465.5" height="464.4" fill="none" stroke="#262626" stroke-width="1.0"/>
<path d="M1260.0 616.4h4.6M1725.5 616.4h-4.6M1260.0 663.0h4.6M1725.5 663.0h-4.6M1260.0 709.5h4.6M1725.5 709.5h-4.6M1260.0 756.1h4.6M1725.5 756.1h-4.6M1260.0 802.6h4.6M1725.5 802.6h-4.6M1260.0 849.2h4.6M1725.5 849.2h-4.6M1260.0 895.8h4.6M1725.5 895.8h-4.6M1260.0 942.3h4.6M1725.5 942.3h-4.6M1260.0 988.8h4.6M1725.5 988.8h-4.6M1260.0 1035.4h4.6M1725.5 1035.4h-4.6M1260.9 1080.2v-4.6M1260.9 615.8v4.6M1354.0 1080.2v-4.6M1354.0 615.8v4.6M1447.1 1080.2v-4.6M1447.1 615.8v4.6M1540.2 1080.2v-4.6M1540.2 615.8v4.6M1633.3 1080.2v-4.6M1633.3 615.8v4.6" stroke="#262626" stroke-width="0.9" fill="none"/>
<text class="tk" x="1251.4" y="623.1" text-anchor="end">0</text>
<text class="tk" x="1251.4" y="669.7" text-anchor="end">100</text>
<text class="tk" x="1251.4" y="716.2" text-anchor="end">200</text>
<text class="tk" x="1251.4" y="762.8" text-anchor="end">300</text>
<text class="tk" x="1251.4" y="809.4" text-anchor="end">400</text>
<text class="tk" x="1251.4" y="855.9" text-anchor="end">500</text>
<text class="tk" x="1251.4" y="902.5" text-anchor="end">600</text>
<text class="tk" x="1251.4" y="949.0" text-anchor="end">700</text>
<text class="tk" x="1251.4" y="995.5" text-anchor="end">800</text>
<text class="tk" x="1251.4" y="1042.1" text-anchor="end">900</text>
<text class="tk" x="1260.9" y="1106.0" text-anchor="middle">0</text>
<text class="tk" x="1354.0" y="1106.0" text-anchor="middle">200</text>
<text class="tk" x="1447.1" y="1106.0" text-anchor="middle">400</text>
<text class="tk" x="1540.2" y="1106.0" text-anchor="middle">600</text>
<text class="tk" x="1633.3" y="1106.0" text-anchor="middle">800</text>
<text class="al" x="1492.8" y="1130.6" text-anchor="middle">Termination length <tspan class="mu">μ</tspan>m</text>
<text class="yl" transform="translate(1208.0,847.2) rotate(-90)" text-anchor="middle">Initiation length <tspan class="mu">μ</tspan>m</text>
<text class="tt" x="1493.2" y="603.6" text-anchor="middle" style="letter-spacing:1.19px">Gabaergic</text>
<!-- Oligodendrocyte -->
<clipPath id="cp6"><rect x="70.8" y="1187.0" width="465.6" height="464.6"/></clipPath>
<g clip-path="url(#cp6)"><g filter="url(#cm)">
<rect x="30.8" y="1147.0" width="545.6" height="544.6" fill="#000"/>
<g transform="translate(71.70,1187.65)">
<polygon points="1.8,3.4 12.8,2.9 31.2,21.8 41.7,33.8 52.1,45.3 57.4,53.2 59.0,63.7 57.4,68.9 51.1,68.9 49.5,61.0 44.3,58.4 28.6,57.4 26.0,59.5 21.0,59.5 20.0,56.5 16.8,56.0 16.5,61.0 10.2,60.5 7.6,48.0 5.0,40.0 2.4,21.8" fill="rgb(38,38,38)" filter="url(#b1_30)"/>
<polygon points="3.2,4.8 12.6,4.6 30.3,22.8 40.8,34.8 51.0,46.3 56.0,54.0 57.4,63.0 56.5,67.5 52.5,67.5 51.0,59.5 40.0,56.5 28.0,55.5 25.0,58.0 22.0,58.0 21.0,55.0 16.0,54.5 15.5,59.5 11.2,59.0 8.6,46.0 6.0,38.0 3.6,21.0" fill="rgb(76,76,76)" filter="url(#b1_30)"/>
<polygon points="4.2,6.2 12.5,6.0 29.8,23.6 40.2,35.6 50.0,47.2 54.5,55.0 48.0,55.0 38.0,53.0 26.0,51.0 15.0,48.0 9.5,45.0 7.5,38.0 5.2,21.0" fill="rgb(128,128,128)" filter="url(#b1_30)"/>
<polygon points="5.2,7.6 12.5,7.4 29.2,24.8 39.4,36.6 48.5,47.8 51.0,52.0 42.0,49.5 32.0,46.5 22.0,42.5 12.0,38.5 8.5,32.0 6.3,20.0" fill="rgb(168,168,168)" filter="url(#b1_30)"/>
<polygon points="6.2,8.8 12.5,8.8 28.4,25.8 38.4,37.6 46.0,47.0 38.0,44.5 28.0,40.5 18.0,35.5 10.0,30.5 7.4,20.0" fill="rgb(194,194,194)" filter="url(#b1_30)"/>
<polygon points="7.2,9.8 12.5,9.9 27.5,26.6 37.0,38.0 41.5,44.0 32.0,40.0 22.0,35.0 13.0,29.0 8.8,22.0" fill="rgb(214,214,214)" filter="url(#b1_30)"/>
<rect x="39.3" y="61.0" width="5.0" height="7.2" fill="rgb(51,51,51)" filter="url(#b0_90)"/>
<ellipse cx="0" cy="0" rx="12.5" ry="3.8" transform="translate(17.0,19.0) rotate(46.5)" fill="rgb(242,242,242)" filter="url(#b1_30)"/>
</g></g></g>
<rect x="70.8" y="1187.0" width="465.6" height="464.6" fill="none" stroke="#262626" stroke-width="1.0"/>
<path d="M70.8 1187.7h4.6M536.4 1187.7h-4.6M70.8 1234.2h4.6M536.4 1234.2h-4.6M70.8 1280.8h4.6M536.4 1280.8h-4.6M70.8 1327.3h4.6M536.4 1327.3h-4.6M70.8 1373.9h4.6M536.4 1373.9h-4.6M70.8 1420.4h4.6M536.4 1420.4h-4.6M70.8 1467.0h4.6M536.4 1467.0h-4.6M70.8 1513.5h4.6M536.4 1513.5h-4.6M70.8 1560.1h4.6M536.4 1560.1h-4.6M70.8 1606.6h4.6M536.4 1606.6h-4.6M71.7 1651.6v-4.6M71.7 1187.0v4.6M164.8 1651.6v-4.6M164.8 1187.0v4.6M257.9 1651.6v-4.6M257.9 1187.0v4.6M351.0 1651.6v-4.6M351.0 1187.0v4.6M444.1 1651.6v-4.6M444.1 1187.0v4.6" stroke="#262626" stroke-width="0.9" fill="none"/>
<text class="tk" x="62.2" y="1194.4" text-anchor="end">0</text>
<text class="tk" x="62.2" y="1240.9" text-anchor="end">100</text>
<text class="tk" x="62.2" y="1287.5" text-anchor="end">200</text>
<text class="tk" x="62.2" y="1334.0" text-anchor="end">300</text>
<text class="tk" x="62.2" y="1380.6" text-anchor="end">400</text>
<text class="tk" x="62.2" y="1427.1" text-anchor="end">500</text>
<text class="tk" x="62.2" y="1473.7" text-anchor="end">600</text>
<text class="tk" x="62.2" y="1520.2" text-anchor="end">700</text>
<text class="tk" x="62.2" y="1566.8" text-anchor="end">800</text>
<text class="tk" x="62.2" y="1613.3" text-anchor="end">900</text>
<text class="tk" x="71.7" y="1677.4" text-anchor="middle">0</text>
<text class="tk" x="164.8" y="1677.4" text-anchor="middle">200</text>
<text class="tk" x="257.9" y="1677.4" text-anchor="middle">400</text>
<text class="tk" x="351.0" y="1677.4" text-anchor="middle">600</text>
<text class="tk" x="444.1" y="1677.4" text-anchor="middle">800</text>
<text class="al" x="303.6" y="1702.0" text-anchor="middle">Termination length <tspan class="mu">μ</tspan>m</text>
<text class="yl" transform="translate(18.8,1418.5) rotate(-90)" text-anchor="middle">Initiation length <tspan class="mu">μ</tspan>m</text>
<text class="tt" x="302.0" y="1174.8" text-anchor="middle" style="letter-spacing:1.01px">Oligodendrocyte</text>
<!-- Granule -->
<clipPath id="cp7"><rect x="660.8" y="1187.0" width="465.8" height="464.6"/></clipPath>
<g clip-path="url(#cp7)"><g filter="url(#cm)">
<rect x="620.8" y="1147.0" width="545.8" height="544.6" fill="#000"/>
<g transform="translate(661.70,1187.65)">
<polygon points="-46.6,2.3 0.0,8.4 14.0,6.5 24.2,12.6 33.5,25.1 45.2,33.5 61.0,45.2 71.7,55.9 78.2,67.5 91.7,79.1 108.0,91.2 126.2,102.4 140.1,114.0 146.6,124.8 161.5,140.6 174.6,153.6 182.5,166.6 190.4,181.1 193.6,191.8 207.1,205.8 221.6,220.6 229.0,229.0 227.6,236.5 219.7,239.7 204.8,237.4 172.2,234.1 139.7,229.0 123.4,219.3 115.4,221.1 90.8,235.1 66.6,246.2 50.3,249.5 26.1,244.9 0.0,236.5 -46.6,235.1" fill="rgb(28,28,28)" filter="url(#b5_50)"/>
<polygon points="130.3,241.1 139.7,239.3 158.3,242.1 181.5,246.7 183.4,255.1 172.2,258.8 153.6,257.0 135.0,251.4 129.4,246.7" fill="rgb(29,29,29)" filter="url(#b4_50)"/>
<polygon points="-46.6,100.1 0.0,97.8 9.3,79.1 23.3,55.9 41.9,39.6 58.2,46.6 69.8,58.2 76.8,69.8 90.8,81.5 107.1,93.1 124.8,104.3 138.7,115.4 145.2,125.7 159.7,142.0 172.2,154.5 180.6,167.6 188.5,182.5 191.8,193.2 202.5,207.1 210.4,218.8 207.1,229.0 188.5,232.8 172.2,231.8 139.7,226.2 123.4,216.9 114.0,218.8 90.8,231.8 66.6,243.0 50.3,245.8 26.1,242.1 0.0,234.1 -46.6,234.1" fill="rgb(46,46,46)" filter="url(#b6_50)"/>
<polygon points="-46.6,107.1 0.0,104.7 18.6,83.8 34.9,62.8 51.2,53.5 65.2,62.8 74.5,76.8 88.4,88.4 104.7,100.1 121.0,111.7 135.0,122.0 142.0,135.0 155.9,151.3 167.6,165.3 176.0,181.5 179.2,195.5 174.6,207.1 153.6,211.8 135.0,211.8 116.4,213.2 93.1,222.5 69.8,231.8 46.6,235.1 23.3,231.8 0.0,228.1 -46.6,228.1" fill="rgb(69,69,69)" filter="url(#b7_00)"/>
<polygon points="-46.6,114.0 0.0,111.7 23.3,100.1 46.6,86.1 65.2,86.1 81.5,97.8 100.1,109.4 118.7,121.0 132.7,135.0 144.3,153.6 153.6,169.9 157.3,183.9 139.7,191.8 116.4,191.8 93.1,190.9 69.8,188.5 46.6,190.9 23.3,195.5 0.0,197.8 -46.6,197.8" fill="rgb(89,89,89)" filter="url(#b7_50)"/>
<polygon points="-46.6,130.3 0.0,128.0 18.6,123.4 41.9,114.0 65.2,109.4 88.4,116.4 109.4,128.0 123.4,144.3 132.7,160.6 130.3,174.6 107.1,179.2 83.8,179.2 55.9,181.5 27.9,186.2 0.0,188.5 -46.6,188.5" fill="rgb(107,107,107)" filter="url(#b7_50)"/>
<polygon points="-46.6,155.9 0.0,153.6 18.6,144.3 41.9,130.3 60.5,124.8 79.1,128.0 90.8,139.7 88.4,153.6 69.8,162.9 46.6,169.9 23.3,176.9 0.0,179.2 -46.6,179.2" fill="rgb(122,122,122)" filter="url(#b6_50)"/>
<polygon points="9.3,160.6 27.9,149.0 46.6,137.3 62.8,132.7 74.5,137.3 76.8,146.6 65.2,155.9 46.6,162.9 27.9,169.9 11.6,171.3" fill="rgb(135,135,135)" filter="url(#b5_50)"/>
</g></g></g>
<rect x="660.8" y="1187.0" width="465.8" height="464.6" fill="none" stroke="#262626" stroke-width="1.0"/>
<path d="M660.8 1187.7h4.6M1126.6 1187.7h-4.6M660.8 1234.2h4.6M1126.6 1234.2h-4.6M660.8 1280.8h4.6M1126.6 1280.8h-4.6M660.8 1327.3h4.6M1126.6 1327.3h-4.6M660.8 1373.9h4.6M1126.6 1373.9h-4.6M660.8 1420.4h4.6M1126.6 1420.4h-4.6M660.8 1467.0h4.6M1126.6 1467.0h-4.6M660.8 1513.5h4.6M1126.6 1513.5h-4.6M660.8 1560.1h4.6M1126.6 1560.1h-4.6M660.8 1606.6h4.6M1126.6 1606.6h-4.6M661.7 1651.6v-4.6M661.7 1187.0v4.6M754.8 1651.6v-4.6M754.8 1187.0v4.6M847.9 1651.6v-4.6M847.9 1187.0v4.6M941.0 1651.6v-4.6M941.0 1187.0v4.6M1034.1 1651.6v-4.6M1034.1 1187.0v4.6" stroke="#262626" stroke-width="0.9" fill="none"/>
<text class="tk" x="652.2" y="1194.4" text-anchor="end">0</text>
<text class="tk" x="652.2" y="1240.9" text-anchor="end">100</text>
<text class="tk" x="652.2" y="1287.5" text-anchor="end">200</text>
<text class="tk" x="652.2" y="1334.0" text-anchor="end">300</text>
<text class="tk" x="652.2" y="1380.6" text-anchor="end">400</text>
<text class="tk" x="652.2" y="1427.1" text-anchor="end">500</text>
<text class="tk" x="652.2" y="1473.7" text-anchor="end">600</text>
<text class="tk" x="652.2" y="1520.2" text-anchor="end">700</text>
<text class="tk" x="652.2" y="1566.8" text-anchor="end">800</text>
<text class="tk" x="652.2" y="1613.3" text-anchor="end">900</text>
<text class="tk" x="661.7" y="1677.4" text-anchor="middle">0</text>
<text class="tk" x="754.8" y="1677.4" text-anchor="middle">200</text>
<text class="tk" x="847.9" y="1677.4" text-anchor="middle">400</text>
<text class="tk" x="941.0" y="1677.4" text-anchor="middle">600</text>
<text class="tk" x="1034.1" y="1677.4" text-anchor="middle">800</text>
<text class="al" x="893.7" y="1702.0" text-anchor="middle">Termination length <tspan class="mu">μ</tspan>m</text>
<text class="yl" transform="translate(608.8,1418.5) rotate(-90)" text-anchor="middle">Initiation length <tspan class="mu">μ</tspan>m</text>
<text class="tt" x="893.9" y="1174.8" text-anchor="middle" style="letter-spacing:1.57px">Granule</text>
<!-- Glutamatergic -->
<clipPath id="cp8"><rect x="1260.0" y="1187.0" width="465.3" height="464.6"/></clipPath>
<g clip-path="url(#cp8)"><g filter="url(#cm)">
<rect x="1220.0" y="1147.0" width="545.3" height="544.6" fill="#000"/>
<g transform="translate(1260.90,1187.65)">
<polygon points="-46.6,-66.6 63.8,0.0 105.7,43.3 148.0,86.1 189.9,131.3 231.8,175.0 256.0,204.8 270.0,232.8 278.4,248.1 278.8,258.8 251.4,263.5 238.8,258.8 223.4,253.7 215.1,238.3 200.2,226.7 176.9,218.8 163.9,207.1 154.5,194.6 146.6,180.6 123.4,169.4 109.4,155.9 81.0,147.1 61.0,149.0 39.6,159.2 27.0,174.6 28.9,188.5 20.9,190.9 0.0,182.5 -46.6,182.5" fill="rgb(28,28,28)" filter="url(#b5_50)"/>
<polygon points="-46.6,-66.6 63.8,0.0 105.7,43.3 148.0,86.1 189.9,131.3 231.8,175.0 256.0,204.8 270.0,232.8 278.4,248.1 251.4,256.0 242.1,255.1 228.1,246.7 209.5,228.1 186.2,214.1 167.6,200.2 153.6,179.2 130.3,162.0 111.7,146.6 83.8,137.3 60.5,137.3 34.9,145.2 20.9,160.6 16.3,176.9 0.0,174.6 -46.6,174.6" fill="rgb(46,46,46)" filter="url(#b6_50)"/>
<polygon points="-46.6,-66.6 63.8,0.0 105.7,43.3 148.0,86.1 189.9,131.3 231.8,175.0 256.0,204.8 237.4,235.1 228.1,239.7 214.1,229.0 190.9,209.5 162.9,186.2 139.7,162.0 116.4,142.0 88.4,125.7 55.9,121.0 23.3,125.7 0.0,128.0 -46.6,128.0" fill="rgb(69,69,69)" filter="url(#b7_50)"/>
<polygon points="-46.6,-100.1 30.3,0.0 72.2,43.3 114.5,86.1 156.4,131.3 198.3,175.0 207.1,207.1 197.8,214.1 176.9,195.5 149.0,168.5 121.0,140.6 93.1,120.1 60.5,108.0 27.9,108.0 0.0,111.7 -46.6,111.7" fill="rgb(92,92,92)" filter="url(#b7_50)"/>
<polygon points="-46.6,-105.7 24.7,0.0 66.6,43.3 108.9,86.1 150.8,131.3 155.9,155.9 144.3,162.9 121.0,139.7 93.1,114.0 65.2,95.4 32.6,90.8 0.0,95.4 -46.6,95.4" fill="rgb(115,115,115)" filter="url(#b6_50)"/>
<polygon points="-46.6,-112.2 18.2,0.0 60.0,43.3 102.4,86.1 125.7,130.3 121.0,139.7 109.4,128.0 83.8,104.7 55.9,83.8 27.9,76.8 0.0,69.8 -46.6,69.8" fill="rgb(138,138,138)" filter="url(#b6_00)"/>
<ellipse cx="0" cy="0" rx="34.9" ry="12.6" transform="translate(44.2,53.1) rotate(48.0)" fill="rgb(161,161,161)" filter="url(#b5_00)"/>
<polygon points="37.7,0.0 79.6,43.3 122.0,86.1 163.9,131.3 205.8,175.0 230.0,204.8 243.9,232.8 252.3,248.1 252.8,258.8 255.6,279.3 558.6,279.3 558.6,-93.1 -55.9,-93.1" fill="rgb(0,0,0)" filter="url(#b4_00)"/>
</g></g></g>
<rect x="1260.0" y="1187.0" width="465.3" height="464.6" fill="none" stroke="#262626" stroke-width="1.0"/>
<path d="M1260.0 1187.7h4.6M1725.3 1187.7h-4.6M1260.0 1234.2h4.6M1725.3 1234.2h-4.6M1260.0 1280.8h4.6M1725.3 1280.8h-4.6M1260.0 1327.3h4.6M1725.3 1327.3h-4.6M1260.0 1373.9h4.6M1725.3 1373.9h-4.6M1260.0 1420.4h4.6M1725.3 1420.4h-4.6M1260.0 1467.0h4.6M1725.3 1467.0h-4.6M1260.0 1513.5h4.6M1725.3 1513.5h-4.6M1260.0 1560.1h4.6M1725.3 1560.1h-4.6M1260.0 1606.6h4.6M1725.3 1606.6h-4.6M1260.9 1651.6v-4.6M1260.9 1187.0v4.6M1354.0 1651.6v-4.6M1354.0 1187.0v4.6M1447.1 1651.6v-4.6M1447.1 1187.0v4.6M1540.2 1651.6v-4.6M1540.2 1187.0v4.6M1633.3 1651.6v-4.6M1633.3 1187.0v4.6" stroke="#262626" stroke-width="0.9" fill="none"/>
<text class="tk" x="1251.4" y="1194.4" text-anchor="end">0</text>
<text class="tk" x="1251.4" y="1240.9" text-anchor="end">100</text>
<text class="tk" x="1251.4" y="1287.5" text-anchor="end">200</text>
<text class="tk" x="1251.4" y="1334.0" text-anchor="end">300</text>
<text class="tk" x="1251.4" y="1380.6" text-anchor="end">400</text>
<text class="tk" x="1251.4" y="1427.1" text-anchor="end">500</text>
<text class="tk" x="1251.4" y="1473.7" text-anchor="end">600</text>
<text class="tk" x="1251.4" y="1520.2" text-anchor="end">700</text>
<text class="tk" x="1251.4" y="1566.8" text-anchor="end">800</text>
<text class="tk" x="1251.4" y="1613.3" text-anchor="end">900</text>
<text class="tk" x="1260.9" y="1677.4" text-anchor="middle">0</text>
<text class="tk" x="1354.0" y="1677.4" text-anchor="middle">200</text>
<text class="tk" x="1447.1" y="1677.4" text-anchor="middle">400</text>
<text class="tk" x="1540.2" y="1677.4" text-anchor="middle">600</text>
<text class="tk" x="1633.3" y="1677.4" text-anchor="middle">800</text>
<text class="al" x="1492.7" y="1702.0" text-anchor="middle">Termination length <tspan class="mu">μ</tspan>m</text>
<text class="yl" transform="translate(1208.0,1418.5) rotate(-90)" text-anchor="middle">Initiation length <tspan class="mu">μ</tspan>m</text>
<text class="tt" x="1493.3" y="1174.8" text-anchor="middle" style="letter-spacing:1.47px">Glutamatergic</text>
<!-- colorbar -->
<rect x="1786.5" y="396.5" width="53.6" height="884.5" fill="url(#cbg)" stroke="#606060" stroke-width="2.6"/>
<path d="M1839.6 544.0h-8.4" stroke="#1a1a1a" stroke-width="2.2" fill="none"/>
<text class="cb" x="1851.6" y="558.3">10<tspan dy="-15.6" dx="0.8" font-size="27">-2</tspan></text>
<path d="M1839.6 789.8h-8.4" stroke="#1a1a1a" stroke-width="2.2" fill="none"/>
<text class="cb" x="1851.6" y="804.1">10<tspan dy="-15.6" dx="0.8" font-size="27">-3</tspan></text>
<path d="M1839.6 1035.6h-8.4" stroke="#1a1a1a" stroke-width="2.2" fill="none"/>
<text class="cb" x="1851.6" y="1049.9">10<tspan dy="-15.6" dx="0.8" font-size="27">-4</tspan></text>
<text class="cb" x="1851.6" y="1295.3">10<tspan dy="-15.6" dx="0.8" font-size="27">-5</tspan></text>
<text class="pdf" transform="translate(1985.5,807) rotate(-90)" text-anchor="middle">pdf</text>
</svg></body></html>
